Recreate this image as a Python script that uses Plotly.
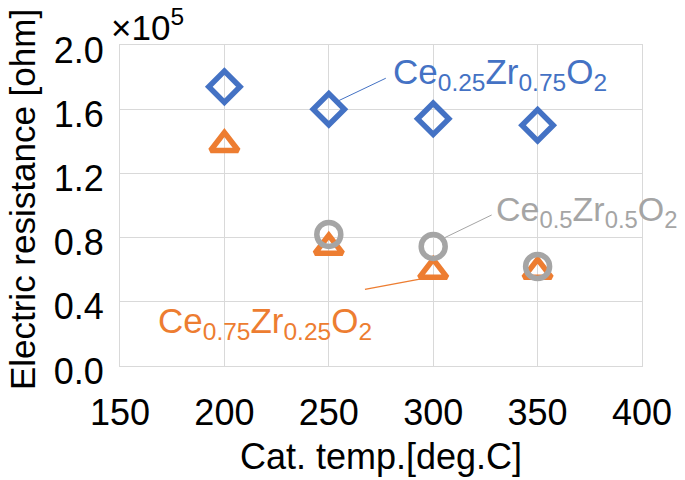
import plotly.graph_objects as go

temps = [200, 250, 300, 350]
ce025 = [1.74, 1.60, 1.54, 1.50]      # Ce0.25Zr0.75O2 (x1e5 ohm)
ce075 = [1.38, 0.74, 0.59, 0.59]      # Ce0.75Zr0.25O2
ce05_t = [250, 300, 350]
ce05 = [0.82, 0.745, 0.62]            # Ce0.5Zr0.5O2

x_ticks = [150, 200, 250, 300, 350, 400]
y_ticks = [0.0, 0.4, 0.8, 1.2, 1.6, 2.0]

BLUE = "#4472C4"
ORANGE = "#ED7D31"
GRAY = "#A5A5A5"
GRID = "#D9D9D9"
FONT = "Liberation Sans, Arial, sans-serif"
FS = 36

fig = go.Figure()
fig.add_trace(go.Scatter(
    x=temps, y=ce025, mode="markers", name="Ce0.25Zr0.75O2",
    marker=dict(symbol="diamond-open", size=24, color=BLUE, line=dict(width=5.5, color=BLUE))))
fig.add_trace(go.Scatter(
    x=temps, y=ce075, mode="markers", name="Ce0.75Zr0.25O2",
    marker=dict(symbol="triangle-up-open", size=24, color=ORANGE, line=dict(width=5.5, color=ORANGE))))
fig.add_trace(go.Scatter(
    x=ce05_t, y=ce05, mode="markers", name="Ce0.5Zr0.5O2",
    marker=dict(symbol="circle-open", size=24, color=GRAY, line=dict(width=5.5, color=GRAY))))

# leader lines
fig.add_shape(type="line", xref="x", yref="y", x0=254.9, y0=1.654, x1=277.3, y1=1.793,
              line=dict(color=BLUE, width=1))
fig.add_shape(type="line", xref="x", yref="y", x0=305.6, y0=0.80, x1=328.0, y1=0.941,
              line=dict(color=GRAY, width=1))
fig.add_shape(type="line", xref="x", yref="y", x0=267.3, y0=0.478, x1=293.6, y1=0.541,
              line=dict(color=ORANGE, width=1.3))

fig.add_annotation(x=279.8, y=1.82, xref="x", yref="y", xanchor="left", yanchor="middle",
                   text="Ce<sub>0.25</sub>Zr<sub>0.75</sub>O<sub>2</sub>", showarrow=False,
                   font=dict(family=FONT, size=35, color=BLUE))
fig.add_annotation(x=329.0, y=0.96, xref="x", yref="y", xanchor="left", yanchor="middle",
                   text="Ce<sub>0.5</sub>Zr<sub>0.5</sub>O<sub>2</sub>", showarrow=False,
                   font=dict(family=FONT, size=34, color=GRAY))
fig.add_annotation(x=167.0, y=0.27, xref="x", yref="y", xanchor="left", yanchor="middle",
                   text="Ce<sub>0.75</sub>Zr<sub>0.25</sub>O<sub>2</sub>", showarrow=False,
                   font=dict(family=FONT, size=35, color=ORANGE))
fig.add_annotation(x=-0.022, y=1.138, xref="paper", yref="paper", xanchor="left", yanchor="top",
                   showarrow=False, text="×10<sup>5</sup>",
                   font=dict(family=FONT, size=35, color="black"))
# y-axis title
fig.add_annotation(x=-0.187, y=0.518, xref="paper", yref="paper", xanchor="center", yanchor="middle",
                   showarrow=False, textangle=-90, text="Electric resistance [ohm]",
                   font=dict(family=FONT, size=35, color="black"))

fig.update_layout(
    width=685, height=480,
    margin=dict(l=120, r=43, t=45, b=114),
    paper_bgcolor="white", plot_bgcolor="white",
    showlegend=False,
    font=dict(family=FONT, size=FS, color="black"),
    xaxis=dict(range=[150, 400], tickvals=x_ticks, ticktext=[str(v) for v in x_ticks],
               showgrid=True, gridcolor=GRID, gridwidth=1, zeroline=False,
               showline=True, linecolor=GRID, linewidth=1, mirror=True,
               ticks="", ticklabelstandoff=15, automargin=False,
               tickfont=dict(family=FONT, size=FS, color="black"),
               title=dict(text="Cat. temp.[deg.C]", font=dict(family=FONT, size=FS, color="black"),
                          standoff=11)),
    yaxis=dict(range=[0, 2.0], tickvals=y_ticks, ticktext=[f"{v:.1f}" for v in y_ticks],
               showgrid=True, gridcolor=GRID, gridwidth=1, zeroline=False,
               showline=True, linecolor=GRID, linewidth=1, mirror=True,
               ticks="", ticklabelstandoff=8, ticklabelshift=5, automargin=False,
               tickfont=dict(family=FONT, size=FS, color="black")),
)

fig.write_html("out.html", config={"displayModeBar": False},
               post_script="document.body.style.margin='0';")
